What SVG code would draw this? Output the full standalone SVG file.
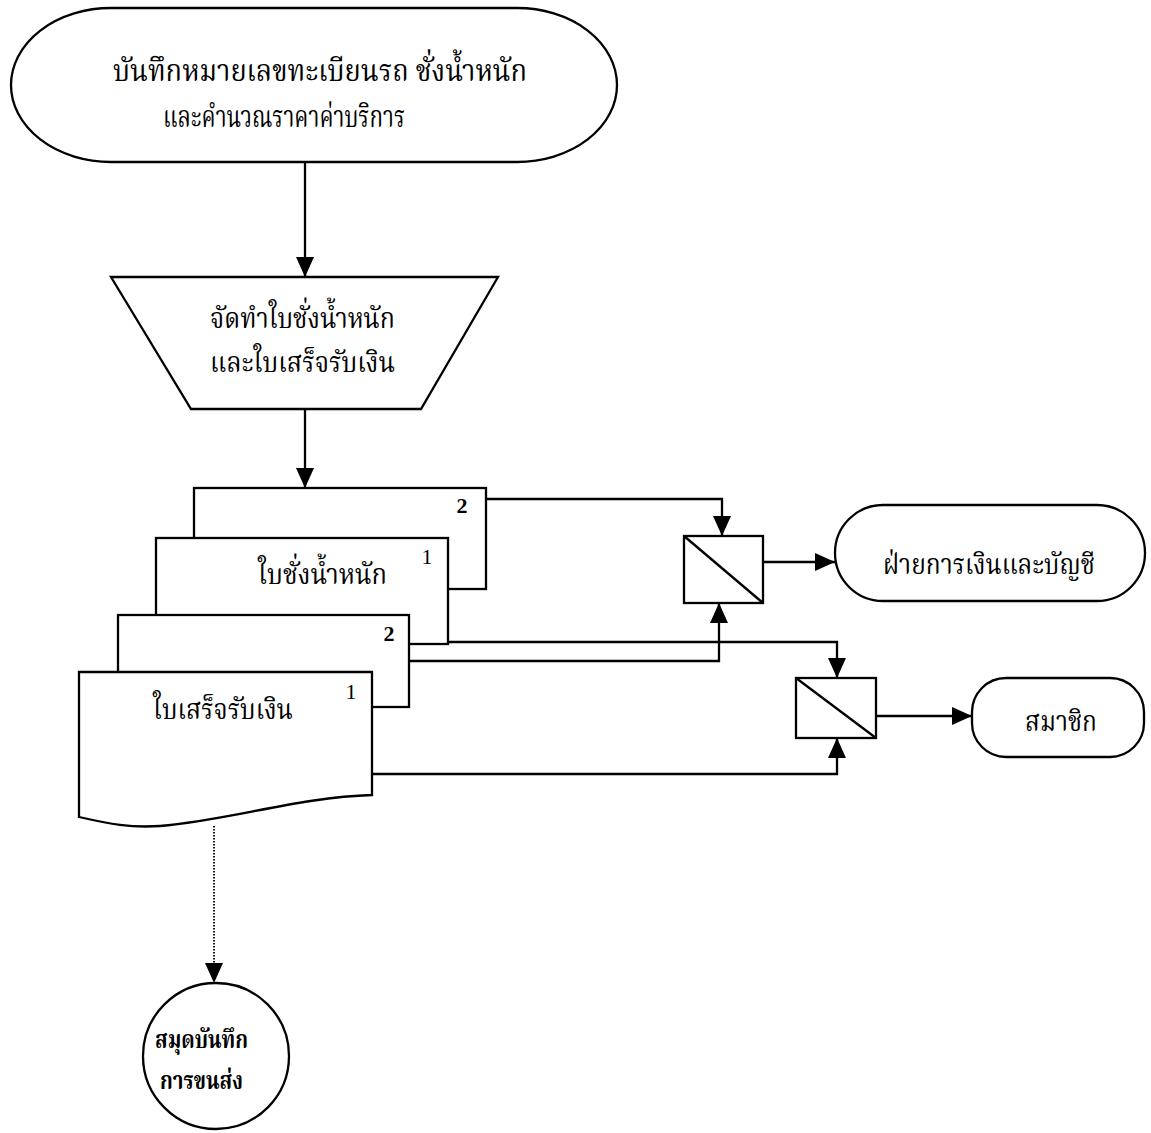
<svg xmlns="http://www.w3.org/2000/svg" width="1151" height="1133" viewBox="0 0 1151 1133">
  <style>
    .shape { fill: #fff; stroke: #000; stroke-width: 2.3; }
    .conn { fill: none; stroke: #000; stroke-width: 2.3; }
    .dotted { fill: none; stroke: #000; stroke-width: 1.8; stroke-dasharray: 1.5 1.5; }
    .th { font-family: "Noto Serif Thai", "Noto Sans Thai", "Liberation Serif", serif; fill: #000; }
    .num { font-family: "Liberation Serif", serif; fill: #000; text-anchor: middle; }
    .b { font-weight: bold; }
  </style>
  <defs>
    <marker id="arrow" markerUnits="userSpaceOnUse" markerWidth="20" markerHeight="20" refX="20" refY="9" orient="auto">
      <path d="M0,0 L20,9 L0,18 Z" fill="#000"/>
    </marker>
  </defs>

  <!-- start terminator -->
  <g id="record">
    <rect class="shape" x="11" y="8" width="606" height="154" rx="100" ry="77"/>
    <text class="th" x="113" y="81" style="font-size:30px" textLength="414" lengthAdjust="spacingAndGlyphs">บันทึกหมายเลขทะเบียนรถ ชั่งน้ำหนัก</text>
    <text class="th" x="163" y="127" style="font-size:30px" textLength="242" lengthAdjust="spacingAndGlyphs">และคำนวณราคาค่าบริการ</text>
  </g>

  <!-- manual operation -->
  <g id="prepare">
    <polygon class="shape" points="111,277 498,277 421,409 191,409"/>
    <text class="th" x="210" y="328" style="font-size:29px" textLength="185" lengthAdjust="spacingAndGlyphs">จัดทำใบชั่งน้ำหนัก</text>
    <text class="th" x="210" y="372" style="font-size:29px" textLength="185" lengthAdjust="spacingAndGlyphs">และใบเสร็จรับเงิน</text>
  </g>

  <!-- document stack, back to front -->
  <g id="weigh-copy2">
    <rect class="shape" x="194" y="488" width="292" height="101"/>
    <text class="num b" x="462" y="513" style="font-size:22px">2</text>
  </g>
  <g id="weigh-copy1">
    <rect class="shape" x="156" y="538" width="292" height="106"/>
    <text class="num" x="427" y="564" style="font-size:22px">1</text>
    <text class="th" x="258" y="584" style="font-size:29px" textLength="129" lengthAdjust="spacingAndGlyphs">ใบชั่งน้ำหนัก</text>
  </g>
  <g id="receipt-copy2">
    <rect class="shape" x="118" y="615" width="291" height="92"/>
    <text class="num b" x="389" y="641" style="font-size:22px">2</text>
  </g>
  <g id="receipt-copy1">
    <path class="shape" d="M79,672 H372 V795 C300,797 230,820 160,826 C130,828 110,824 79,817 Z"/>
    <text class="num" x="351" y="699" style="font-size:22px">1</text>
    <text class="th" x="153" y="719" style="font-size:29px" textLength="140" lengthAdjust="spacingAndGlyphs">ใบเสร็จรับเงิน</text>
  </g>

  <!-- collate boxes -->
  <g id="collate-finance">
    <rect class="shape" x="684" y="536" width="79" height="67"/>
    <line class="conn" x1="684" y1="536" x2="763" y2="603"/>
  </g>
  <g id="collate-member">
    <rect class="shape" x="796" y="678" width="80" height="60"/>
    <line class="conn" x1="796" y1="678" x2="876" y2="738"/>
  </g>

  <!-- destinations -->
  <g id="finance">
    <rect class="shape" x="835" y="505" width="310" height="96" rx="48" ry="48"/>
    <text class="th" x="883" y="574" style="font-size:29px" textLength="212" lengthAdjust="spacingAndGlyphs">ฝ่ายการเงินและบัญชี</text>
  </g>
  <g id="member">
    <rect class="shape" x="972" y="678" width="172" height="79" rx="34" ry="34"/>
    <text class="th" x="1025" y="731" style="font-size:29px" textLength="72" lengthAdjust="spacingAndGlyphs">สมาชิก</text>
  </g>
  <g id="logbook">
    <circle class="shape" cx="216" cy="1056" r="73"/>
    <text class="th b" x="155" y="1048" style="font-size:25px" textLength="93" lengthAdjust="spacingAndGlyphs">สมุดบันทึก</text>
    <text class="th b" x="160" y="1089" style="font-size:25px" textLength="83" lengthAdjust="spacingAndGlyphs">การขนส่ง</text>
  </g>

  <!-- connectors -->
  <g id="connectors">
    <path class="conn" d="M305,162 V277" marker-end="url(#arrow)"/>
    <path class="conn" d="M305,409 V488" marker-end="url(#arrow)"/>
    <path class="conn" d="M486,499 H722 V536" marker-end="url(#arrow)"/>
    <path class="conn" d="M409,661 H719 V603" marker-end="url(#arrow)"/>
    <path class="conn" d="M448,642 H837 V678" marker-end="url(#arrow)"/>
    <path class="conn" d="M372,774 H837 V738" marker-end="url(#arrow)"/>
    <path class="conn" d="M763,562 H835" marker-end="url(#arrow)"/>
    <path class="conn" d="M876,716 H972" marker-end="url(#arrow)"/>
    <path class="dotted" d="M214,826 V983" marker-end="url(#arrow)"/>
  </g>
</svg>
